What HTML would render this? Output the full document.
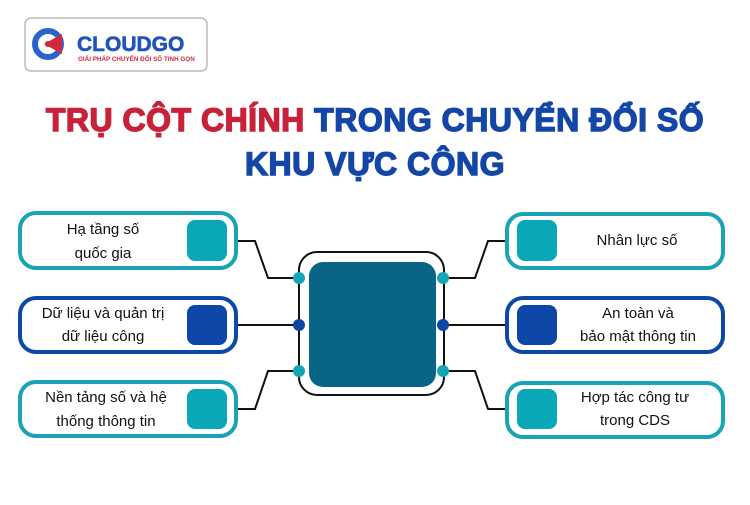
<!DOCTYPE html>
<html><head><meta charset="utf-8"><style>
body{margin:0;width:750px;height:500px;background:#fff;overflow:hidden}
text{font-family:"Liberation Sans","DejaVu Sans",sans-serif}
</style></head><body>
<svg width="750" height="500" viewBox="0 0 750 500" xmlns="http://www.w3.org/2000/svg">
<!-- logo -->
<rect x="25" y="18" width="182" height="53" rx="6" fill="#fff" stroke="#bbb" stroke-width="1.5"/>
<circle cx="48" cy="44" r="13" fill="none" stroke="#2a63c9" stroke-width="6"/>
<path d="M44 44 L62 34 L62 54 Z" fill="#d0283d"/>
<circle cx="48" cy="44" r="3" fill="#d0283d"/>
<text x="77" y="51" font-size="21" font-weight="bold" fill="#2055b8" stroke="#2055b8" stroke-width="0.6">CLOUDGO</text>
<text x="78" y="61" font-size="6.3" font-weight="bold" fill="#d0283d">GIẢI PHÁP CHUYỂN ĐỔI SỐ TINH GỌN</text>
<!-- title -->
<text x="375" y="131" text-anchor="middle" font-size="32" font-weight="bold" stroke-width="1.4" letter-spacing="0.5"><tspan fill="#c8223a" stroke="#c8223a">TRỤ CỘT CHÍNH</tspan><tspan fill="#1446a8" stroke="#1446a8"> TRONG CHUYỂN ĐỔI SỐ</tspan></text>
<text x="375" y="175" text-anchor="middle" font-size="32" font-weight="bold" fill="#1446a8" stroke="#1446a8" stroke-width="1.4" letter-spacing="0.5">KHU VỰC CÔNG</text>
<!-- connectors -->
<g stroke="#111" stroke-width="2" fill="none">
<rect x="299" y="252" width="145" height="143" rx="18"/>
<polyline points="238,241 255,241 268,278 296,278"/>
<polyline points="238,325 296,325"/>
<polyline points="238,409 255,409 268,371 296,371"/>
<polyline points="446,278 475,278 488,241 505,241"/>
<polyline points="446,325 505,325"/>
<polyline points="446,371 475,371 488,409 505,409"/>
</g>
<rect x="309" y="262" width="127" height="125" rx="14" fill="#086585"/>
<g fill="#14a5b7"><circle cx="299" cy="278" r="6"/><circle cx="299" cy="371" r="6"/><circle cx="443" cy="278" r="6"/><circle cx="443" cy="371" r="6"/></g>
<g fill="#0d48a8"><circle cx="299" cy="325" r="6"/><circle cx="443" cy="325" r="6"/></g>
<!-- boxes -->
<g stroke-width="4" fill="#fff">
<rect x="20" y="213" width="216" height="55" rx="16" stroke="#1aa3b5"/>
<rect x="20" y="298" width="216" height="54" rx="16" stroke="#0d48a8"/>
<rect x="20" y="382" width="216" height="54" rx="16" stroke="#1aa3b5"/>
<rect x="507" y="214" width="216" height="54" rx="16" stroke="#1aa3b5"/>
<rect x="507" y="298" width="216" height="54" rx="16" stroke="#0d48a8"/>
<rect x="507" y="383" width="216" height="54" rx="16" stroke="#1aa3b5"/>
</g>
<rect x="187" y="220" width="40" height="41" rx="8" fill="#0aa7b8"/>
<rect x="187" y="305" width="40" height="40" rx="8" fill="#0d48a8"/>
<rect x="187" y="389" width="40" height="40" rx="8" fill="#0aa7b8"/>
<rect x="517" y="220" width="40" height="41" rx="8" fill="#0aa7b8"/>
<rect x="517" y="305" width="40" height="40" rx="8" fill="#0d48a8"/>
<rect x="517" y="389" width="40" height="40" rx="8" fill="#0aa7b8"/>
<g font-size="15" fill="#111" text-anchor="middle">
<text x="103" y="234">Hạ tầng số</text><text x="103" y="258">quốc gia</text>
<text x="103" y="318">Dữ liệu và quản trị</text><text x="103" y="341">dữ liệu công</text>
<text x="106" y="402">Nền tảng số và hệ</text><text x="106" y="426">thống thông tin</text>
<text x="637" y="245">Nhân lực số</text>
<text x="638" y="318">An toàn và</text><text x="638" y="341">bảo mật thông tin</text>
<text x="635" y="402">Hợp tác công tư</text><text x="635" y="425">trong CDS</text>
</g>
</svg>
</body></html>
